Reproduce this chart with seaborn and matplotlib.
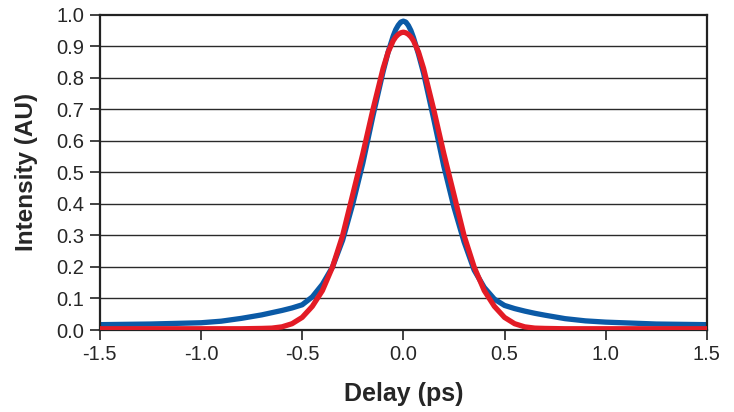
import pandas as pd
import seaborn as sns
import matplotlib.pyplot as plt

# ---- data ----
delay = [-1.5, -1.25, -1.0, -0.9, -0.8, -0.7, -0.65, -0.6, -0.55, -0.5, -0.45,
         -0.4, -0.35, -0.3, -0.25, -0.2, -0.15, -0.1, -0.075, -0.05, -0.0375,
         -0.025, -0.0125, 0.0, 0.0125, 0.025, 0.0375, 0.05, 0.075, 0.1, 0.15,
         0.2, 0.25, 0.3, 0.35, 0.4, 0.45, 0.5, 0.55, 0.6, 0.65, 0.7, 0.8,
         0.9, 1.0, 1.25, 1.5]

measured = [0.017, 0.019, 0.023, 0.028, 0.037, 0.048, 0.055, 0.062, 0.070, 0.080, 0.105,
            0.145, 0.200, 0.285, 0.400, 0.530, 0.680, 0.820, 0.882, 0.933, 0.953,
            0.967, 0.977, 0.980, 0.977, 0.966, 0.950, 0.928, 0.875, 0.815, 0.670,
            0.520, 0.390, 0.280, 0.190, 0.135, 0.098, 0.078, 0.068, 0.060, 0.053, 0.047, 0.036,
            0.029, 0.025, 0.019, 0.017]

fit = [0.004, 0.004, 0.004, 0.004, 0.004, 0.005, 0.006, 0.010, 0.020, 0.040, 0.075,
       0.125, 0.200, 0.300, 0.430, 0.560, 0.700, 0.830, 0.882, 0.918, 0.930,
       0.938, 0.943, 0.945, 0.943, 0.938, 0.930, 0.918, 0.882, 0.830, 0.700,
       0.560, 0.430, 0.300, 0.200, 0.125, 0.075, 0.040, 0.020, 0.010, 0.006, 0.005, 0.004,
       0.004, 0.004, 0.004, 0.004]

df = pd.DataFrame({'delay': delay, 'measured': measured, 'fit': fit})

sns.set_style('white')
plt.rcParams['font.family'] = ['Liberation Sans', 'DejaVu Sans']
plt.rcParams['axes.unicode_minus'] = False

fig, ax = plt.subplots(figsize=(7.34, 4.12), dpi=100)
fig.subplots_adjust(left=0.136, right=0.963, top=0.964, bottom=0.199)

for y in [i / 10 for i in range(1, 10)]:
    ax.axhline(y, color='#2a2a2a', lw=1.0, zorder=0)

sns.lineplot(x='delay', y='measured', data=df, color='#0b5aa6', lw=3.8,
             ax=ax, zorder=2, solid_capstyle='round')
sns.lineplot(x='delay', y='fit', data=df, color='#e31b25', lw=3.8,
             ax=ax, zorder=3, solid_capstyle='round')

ax.set_xlim(-1.5, 1.5)
ax.set_ylim(0, 1.0)
ax.set_xticks([-1.5, -1.0, -0.5, 0.0, 0.5, 1.0, 1.5])
ax.set_xticklabels(['-1.5', '-1.0', '-0.5', '0.0', '0.5', '1.0', '1.5'])
ax.set_yticks([i / 10 for i in range(11)])
ax.set_yticklabels(['%.1f' % (i / 10) for i in range(11)])
ax.tick_params(axis='both', direction='out', length=7, width=1.2,
               color='#222222', labelsize=14.5, pad=4, left=True, bottom=True)

for s in ax.spines.values():
    s.set_color('#222222')
    s.set_linewidth(1.6)

ax.set_xlabel('Delay (ps)', fontsize=18, fontweight='bold', labelpad=13)
ax.set_ylabel('Intensity (AU)', fontsize=17.5, fontweight='bold', labelpad=13)

plt.savefig('out.png', dpi=100)
